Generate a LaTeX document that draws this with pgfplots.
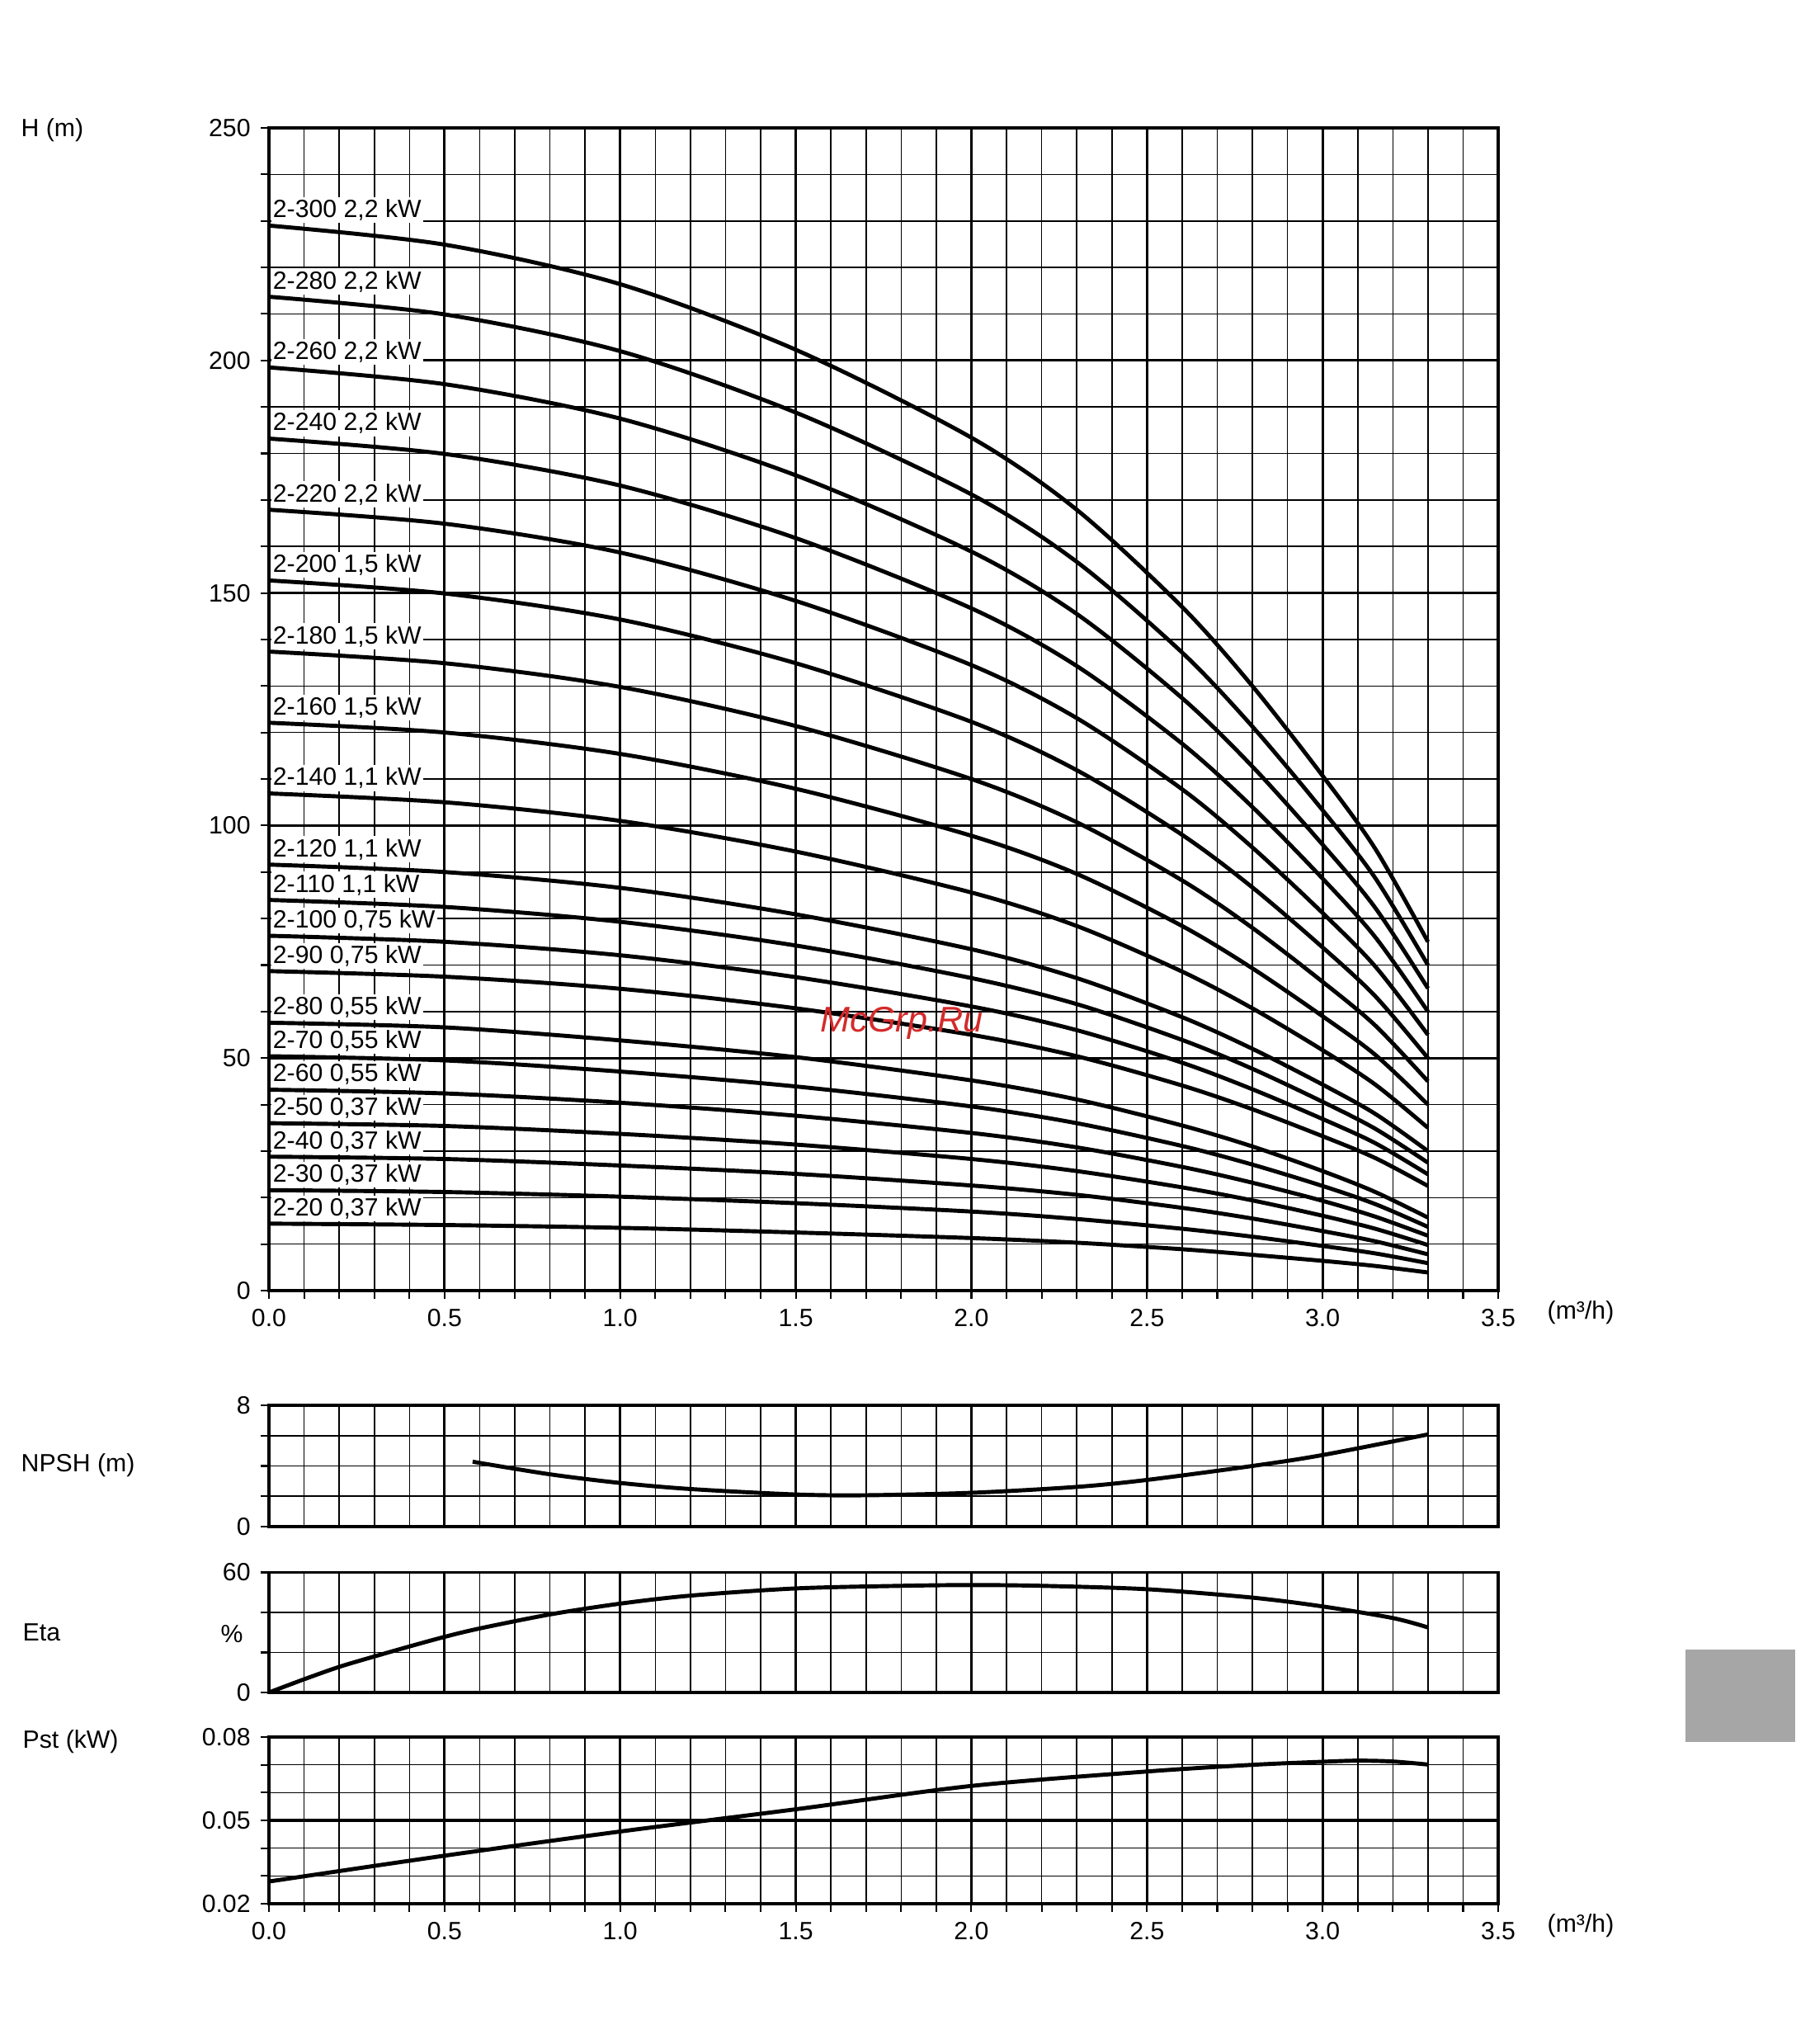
\documentclass[border=0pt]{standalone}
\usepackage{fontspec}
\setmainfont{Liberation Sans}
\usepackage{pgfplots}
\usepackage{pgfplotstable}
\pgfplotsset{compat=1.18}

\definecolor{greybox}{HTML}{A6A6A6}
\definecolor{wmred}{HTML}{D42A2A}
\newcommand{\txt}{\fontsize{8.6}{10}\selectfont}

% head H (m) per pump at Q (m3/h)
\pgfplotstableread{
Q    h300  h280  h260  h240  h220  h200  h180  h160  h140  h120 h110 h100 h90  h80  h70  h60  h50  h40  h30  h20
0.00 229.0 213.7 198.5 183.2 167.9 152.7 137.4 122.1 106.9 91.6 84.0 76.3 68.7 57.6 50.4 43.2 36.0 28.8 21.6 14.4
0.50 224.9 209.9 194.9 179.9 164.9 149.9 134.9 120.0 105.0 90.0 82.5 75.0 67.5 56.6 49.5 42.4 35.4 28.3 21.2 14.1
1.00 216.4 202.0 187.5 173.1 158.7 144.3 129.8 115.4 101.0 86.6 79.3 72.1 64.9 53.8 47.1 40.4 33.7 26.9 20.2 13.5
1.50 202.3 188.8 175.3 161.8 148.3 134.9 121.4 107.9 94.4  80.9 74.2 67.4 60.7 50.2 43.9 37.6 31.4 25.1 18.8 12.5
2.00 183.4 171.2 158.9 146.7 134.5 122.3 110.0 97.8  85.6  73.4 67.2 61.1 55.0 45.2 39.6 33.9 28.3 22.6 17.0 11.3
2.30 167.9 156.7 145.5 134.3 123.1 111.9 100.7 89.6  78.4  67.2 61.6 56.0 50.4 41.1 36.0 30.8 25.7 20.6 15.4 10.3
2.60 147.0 137.2 127.4 117.6 107.8 98.0  88.2  78.4  68.6  58.8 53.9 49.0 44.1 35.5 31.1 26.6 22.2 17.8 13.3 8.9
2.80 130.0 121.3 112.7 104.0 95.3  86.7  78.0  69.3  60.7  52.0 47.7 43.3 39.0 31.0 27.1 23.2 19.4 15.5 11.6 7.7
3.00 110.7 103.3 95.9  88.6  81.2  73.8  66.4  59.0  51.7  44.3 40.6 36.9 33.2 25.7 22.5 19.3 16.1 12.8 9.6  6.4
3.15 95.0  88.7  82.3  76.0  69.7  63.3  57.0  50.7  44.3  38.0 34.8 31.7 28.5 21.2 18.6 15.9 13.3 10.6 8.0  5.3
3.30 75.0  70.0  65.0  60.0  55.0  50.0  45.0  40.0  35.0  30.0 27.5 25.0 22.5 15.7 13.7 11.8 9.8  7.8  5.9  3.9
}\headtable

\pgfplotsset{
  pump/.style={
    scale only axis, width=14.90cm, anchor=south west,
    xmin=0, xmax=3.5,
    xtick={0,0.5,1,1.5,2,2.5,3,3.5},
    minor x tick num=4,
    grid=both,
    minor grid style={black, line width=0.45pt},
    major grid style={black, line width=0.9pt},
    axis line style={line width=1pt},
    tick pos=left, tick align=outside,
    major tick length=0.1cm, minor tick length=0.1cm,
    every tick/.style={black, line width=0.6pt},
    tick label style={font=\txt},
    scaled ticks=false,
    /pgf/number format/assume math mode=true,
  },
  crv/.style={black, line width=1.4pt, smooth},
}
\newcommand{\lbl}[2]{\node[anchor=base west, fill=white, inner xsep=0.6pt, inner ysep=0.8pt,
  xshift=0.6pt, font=\txt] at (axis cs:0,#1) {#2};}

\begin{document}
\begin{tikzpicture}
\useasboundingbox (0,0) rectangle (21.76,-24.77);

% main H-Q chart
\begin{axis}[pump, at={(3.26cm,-15.64cm)}, height=14.09cm,
  ymin=0, ymax=250, ytick={0,50,100,150,200,250}, minor y tick num=4,
  xticklabels={0.0,0.5,1.0,1.5,2.0,2.5,3.0,3.5},
  yticklabels={0,50,100,150,200,250}]
\lbl{230.7}{2-300 2,2 kW}
\lbl{215.4}{2-280 2,2 kW}
\lbl{200.2}{2-260 2,2 kW}
\lbl{184.9}{2-240 2,2 kW}
\lbl{169.6}{2-220 2,2 kW}
\lbl{154.4}{2-200 1,5 kW}
\lbl{139.1}{2-180 1,5 kW}
\lbl{123.8}{2-160 1,5 kW}
\lbl{108.6}{2-140 1,1 kW}
\lbl{93.3}{2-120 1,1 kW}
\lbl{85.7}{2-110 1,1 kW}
\lbl{78.0}{2-100 0,75 kW}
\lbl{70.4}{2-90 0,75 kW}
\lbl{59.3}{2-80 0,55 kW}
\lbl{52.1}{2-70 0,55 kW}
\lbl{44.9}{2-60 0,55 kW}
\lbl{37.7}{2-50 0,37 kW}
\lbl{30.5}{2-40 0,37 kW}
\lbl{23.3}{2-30 0,37 kW}
\lbl{16.1}{2-20 0,37 kW}
\pgfplotsinvokeforeach{h300,h280,h260,h240,h220,h200,h180,h160,h140,h120,h110,h100,h90,h80,h70,h60,h50,h40,h30,h20}{
  \addplot[crv] table[x=Q, y=#1]{\headtable};
}
\end{axis}

% NPSH
\begin{axis}[pump, at={(3.26cm,-18.50cm)}, height=1.47cm,
  ymin=0, ymax=8, ytick={0,8}, minor y tick num=3,
  yticklabels={0,8}, xticklabels={}, xtick style={draw=none}]
\addplot[crv] coordinates {(0.58,4.28) (0.8,3.45) (1.0,2.88) (1.2,2.48) (1.5,2.12) (1.7,2.07)
  (2.0,2.23) (2.3,2.62) (2.5,3.08) (2.8,4.0) (3.0,4.72) (3.3,6.08)};
\end{axis}

% efficiency
\begin{axis}[pump, at={(3.26cm,-20.51cm)}, height=1.455cm,
  ymin=0, ymax=60, ytick={0,60}, minor y tick num=2,
  yticklabels={0,60}, xticklabels={}, xtick style={draw=none}]
\addplot[crv] coordinates {(0,0) (0.1,6.6) (0.2,12.8) (0.3,18.0) (0.4,23.0) (0.5,27.8) (0.6,32.0)
  (0.8,39.0) (1.0,44.4) (1.2,48.4) (1.5,52.0) (1.8,53.3) (2.0,53.7) (2.2,53.3) (2.5,51.6)
  (2.8,47.4) (3.0,43.0) (3.2,37.2) (3.3,32.5)};
\end{axis}

% shaft power
\begin{axis}[pump, at={(3.26cm,-23.07cm)}, height=2.02cm,
  ymin=0.02, ymax=0.08, ytick={0.02,0.05,0.08}, minor y tick num=2,
  yticklabels={0.02,0.05,0.08},
  xticklabels={0.0,0.5,1.0,1.5,2.0,2.5,3.0,3.5}]
\addplot[crv] coordinates {(0,0.0280) (0.5,0.0373) (1.0,0.0460) (1.5,0.0540) (2.0,0.0624)
  (2.5,0.0676) (2.8,0.0700) (3.0,0.0711) (3.1,0.0715) (3.2,0.0712) (3.3,0.0701)};
\end{axis}

\node[anchor=west, inner sep=0, font=\txt] at (0.25,-1.58) {H (m)};
\node[anchor=west, inner sep=0, font=\txt] at (0.25,-17.76) {NPSH (m)};
\node[anchor=west, inner sep=0, font=\txt] at (0.27,-19.78) {Eta};
\node[inner sep=0, font=\txt] at (2.81,-19.80) {\%};
\node[anchor=west, inner sep=0, font=\txt] at (0.27,-21.11) {Pst (kW)};
\node[inner sep=0, font=\txt] at (19.16,-15.91) {(m³/h)};
\node[inner sep=0, font=\txt] at (19.16,-23.34) {(m³/h)};
\fill[greybox] (20.43,-19.99) rectangle (21.76,-21.11);
\node[text=wmred, font=\fontsize{12.3}{14}\selectfont\itshape] at (10.93,-12.40) {McGrp.Ru};
\end{tikzpicture}
\end{document}
